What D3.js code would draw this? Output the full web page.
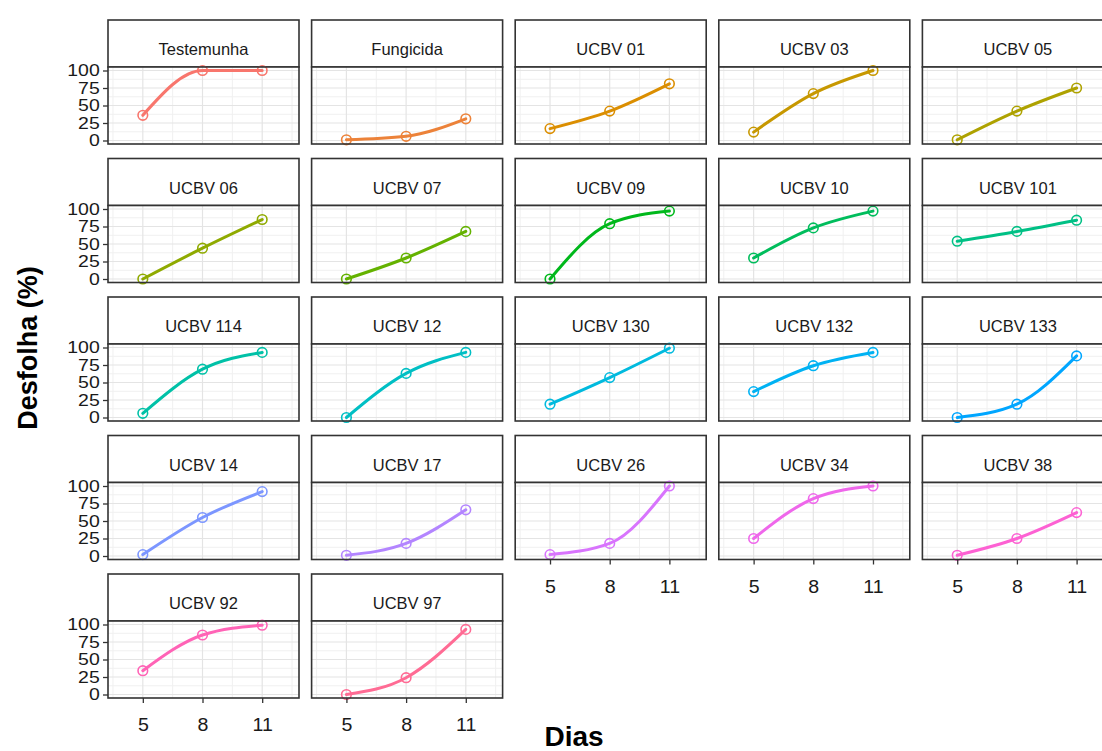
<!DOCTYPE html>
<html lang="pt">
<head>
<meta charset="UTF-8">
<title>Desfolha por tratamento</title>
<script src="https://d3js.org/d3.v7.min.js"></script>
<style>
  body { margin: 0; background: #fff; }
  svg { display: block; font-family: "Liberation Sans", Arial, sans-serif; }
  .strip-text { font-size: 16.5px; fill: #1a1a1a; }
  .tick text { font-size: 16.5px; fill: #1a1a1a; }
  .x-ticks .tick text { font-size: 17.5px; }
  .axis-title { font-weight: bold; fill: #000; }
</style>
</head>
<body>
<svg width="1102" height="751"></svg>
<script>
// treatments, in facet order
const treatments = ["Testemunha", "Fungicida", "UCBV 01", "UCBV 03", "UCBV 05",
  "UCBV 06", "UCBV 07", "UCBV 09", "UCBV 10", "UCBV 101",
  "UCBV 114", "UCBV 12", "UCBV 130", "UCBV 132", "UCBV 133",
  "UCBV 14", "UCBV 17", "UCBV 26", "UCBV 34", "UCBV 38",
  "UCBV 92", "UCBV 97"];

// evaluation days
const days = [5, 8, 11];

// defoliation (%) on days 5, 8, 11 for each treatment
const desfolha = [
  [36, 100, 100],
  [1, 6, 31],
  [17, 42, 81],
  [12, 67, 100],
  [1, 42, 75],
  [0, 44, 85],
  [0, 30, 68],
  [0, 79, 97],
  [30, 73, 97],
  [54, 68, 84],
  [6, 69, 93],
  [0, 63, 93],
  [19, 57, 99],
  [37, 74, 93],
  [0, 19, 88],
  [2, 55, 92],
  [1, 18, 66],
  [2, 18, 100],
  [25, 82, 100],
  [1, 25, 62],
  [34, 85, 99],
  [0, 24, 93]
];

const yTicks = [0, 25, 50, 75, 100];
const yMinor = [12.5, 37.5, 62.5, 87.5];
const xTicks = [5, 8, 11];
const xMinor = [3.5, 6.5, 9.5, 12.5];

// ggplot2 default hue palette (polar LUV, l = 65, c = 100)
function hueColor(h) {
  const L = 65, C = 100, hr = h * Math.PI / 180;
  const u = C * Math.cos(hr), v = C * Math.sin(hr);
  const Xn = 95.047, Yn = 100, Zn = 108.883;
  const d = Xn + 15 * Yn + 3 * Zn;
  const un = 4 * Xn / d, vn = 9 * Yn / d;
  const Y = Yn * Math.pow((L + 16) / 116, 3);
  const up = u / (13 * L) + un, vp = v / (13 * L) + vn;
  const X = Y * 9 * up / (4 * vp);
  const Z = Y * (12 - 3 * up - 20 * vp) / (4 * vp);
  const x = X / 100, y = Y / 100, z = Z / 100;
  const lin = [
    3.2404542 * x - 1.5371385 * y - 0.4985314 * z,
    -0.9692660 * x + 1.8760108 * y + 0.0415560 * z,
    0.0556434 * x - 0.2040259 * y + 1.0572252 * z
  ];
  const gam = c => {
    const g = c <= 0.0031308 ? 12.92 * c : 1.055 * Math.pow(c, 1 / 2.4) - 0.055;
    return Math.round(Math.max(0, Math.min(1, g)) * 255);
  };
  return d3.rgb(gam(lin[0]), gam(lin[1]), gam(lin[2])).formatHex();
}
const n = treatments.length;
const colors = treatments.map((t, i) => hueColor(15 + 360 * i / n));

const svg = d3.select("svg");
const ncol = 5;
const gridLeft = 108, gridTop = 20;
const colStep = 203.6, rowStep = 138.5;
const pw = 191, stripH = 47, ph = 77;

const x = d3.scaleLinear().domain([3.25, 12.85]).range([0, pw]);
const y = d3.scaleLinear().domain([-5, 105]).range([ph, 0]);

const line = d3.line()
  .x(d => x(d.day))
  .y(d => y(d.value))
  .curve(d3.curveMonotoneX);

treatments.forEach((name, i) => {
  const col = i % ncol, row = Math.floor(i / ncol);
  const gx = gridLeft + col * colStep;
  const gy = gridTop + row * rowStep;
  const g = svg.append("g").attr("transform", `translate(${gx},${gy})`);

  // strip
  g.append("rect")
    .attr("x", 0).attr("y", 0)
    .attr("width", pw).attr("height", stripH)
    .attr("fill", "#fff")
    .attr("stroke", "#333").attr("stroke-width", 1.6);
  g.append("text")
    .attr("class", "strip-text")
    .attr("x", pw / 2).attr("y", 35)
    .attr("text-anchor", "middle")
    .text(name);

  const p = g.append("g").attr("transform", `translate(0,${stripH})`);
  p.append("rect")
    .attr("width", pw).attr("height", ph)
    .attr("fill", "#fff");

  // grid
  p.selectAll(".hminor").data(yMinor).join("line")
    .attr("x1", 0).attr("x2", pw)
    .attr("y1", d => y(d)).attr("y2", d => y(d))
    .attr("stroke", "#f0f0f0").attr("stroke-width", 1);
  p.selectAll(".vminor").data(xMinor).join("line")
    .attr("y1", 0).attr("y2", ph)
    .attr("x1", d => x(d)).attr("x2", d => x(d))
    .attr("stroke", "#f0f0f0").attr("stroke-width", 1);
  p.selectAll(".hmajor").data(yTicks).join("line")
    .attr("x1", 0).attr("x2", pw)
    .attr("y1", d => y(d)).attr("y2", d => y(d))
    .attr("stroke", "#e4e4e4").attr("stroke-width", 1.2);
  p.selectAll(".vmajor").data(xTicks).join("line")
    .attr("y1", 0).attr("y2", ph)
    .attr("x1", d => x(d)).attr("x2", d => x(d))
    .attr("stroke", "#e4e4e4").attr("stroke-width", 1.2);

  const pts = days.map((day, k) => ({ day, value: desfolha[i][k] }));
  p.append("path")
    .datum(pts)
    .attr("d", line)
    .attr("fill", "none")
    .attr("stroke", colors[i])
    .attr("stroke-width", 3)
    .attr("stroke-linecap", "round");
  p.selectAll(".pt").data(pts).join("circle")
    .attr("cx", d => x(d.day))
    .attr("cy", d => y(d.value))
    .attr("r", 4.8)
    .attr("fill", "none")
    .attr("stroke", colors[i])
    .attr("stroke-width", 1.6);

  // panel border
  p.append("rect")
    .attr("width", pw).attr("height", ph)
    .attr("fill", "none")
    .attr("stroke", "#333").attr("stroke-width", 1.6);

  // y axis on first column
  if (col === 0) {
    const ya = p.append("g")
      .call(d3.axisLeft(y).tickValues(yTicks).tickSize(5).tickPadding(2));
    ya.select(".domain").remove();
    ya.selectAll(".tick line").attr("stroke", "#333").attr("stroke-width", 1.3);
    ya.selectAll(".tick text").attr("transform", "scale(1.18,1)");
  }
  // x axis where no panel below
  if (i + ncol >= n) {
    const xa = p.append("g")
      .attr("class", "x-ticks")
      .attr("transform", `translate(0,${ph})`)
      .call(d3.axisBottom(x).tickValues(xTicks).tickSize(5).tickPadding(16));
    xa.select(".domain").remove();
    xa.selectAll(".tick line").attr("stroke", "#333").attr("stroke-width", 1.3);
    xa.selectAll(".tick text").attr("transform", "scale(1.12,1)");
  }
});

svg.append("text")
  .attr("class", "axis-title")
  .attr("font-size", 27)
  .attr("transform", "translate(37,348) rotate(-90)")
  .attr("text-anchor", "middle")
  .text("Desfolha (%)");

svg.append("text")
  .attr("class", "axis-title")
  .attr("font-size", 28)
  .attr("x", 574).attr("y", 746)
  .attr("text-anchor", "middle")
  .text("Dias");
</script>
</body>
</html>
